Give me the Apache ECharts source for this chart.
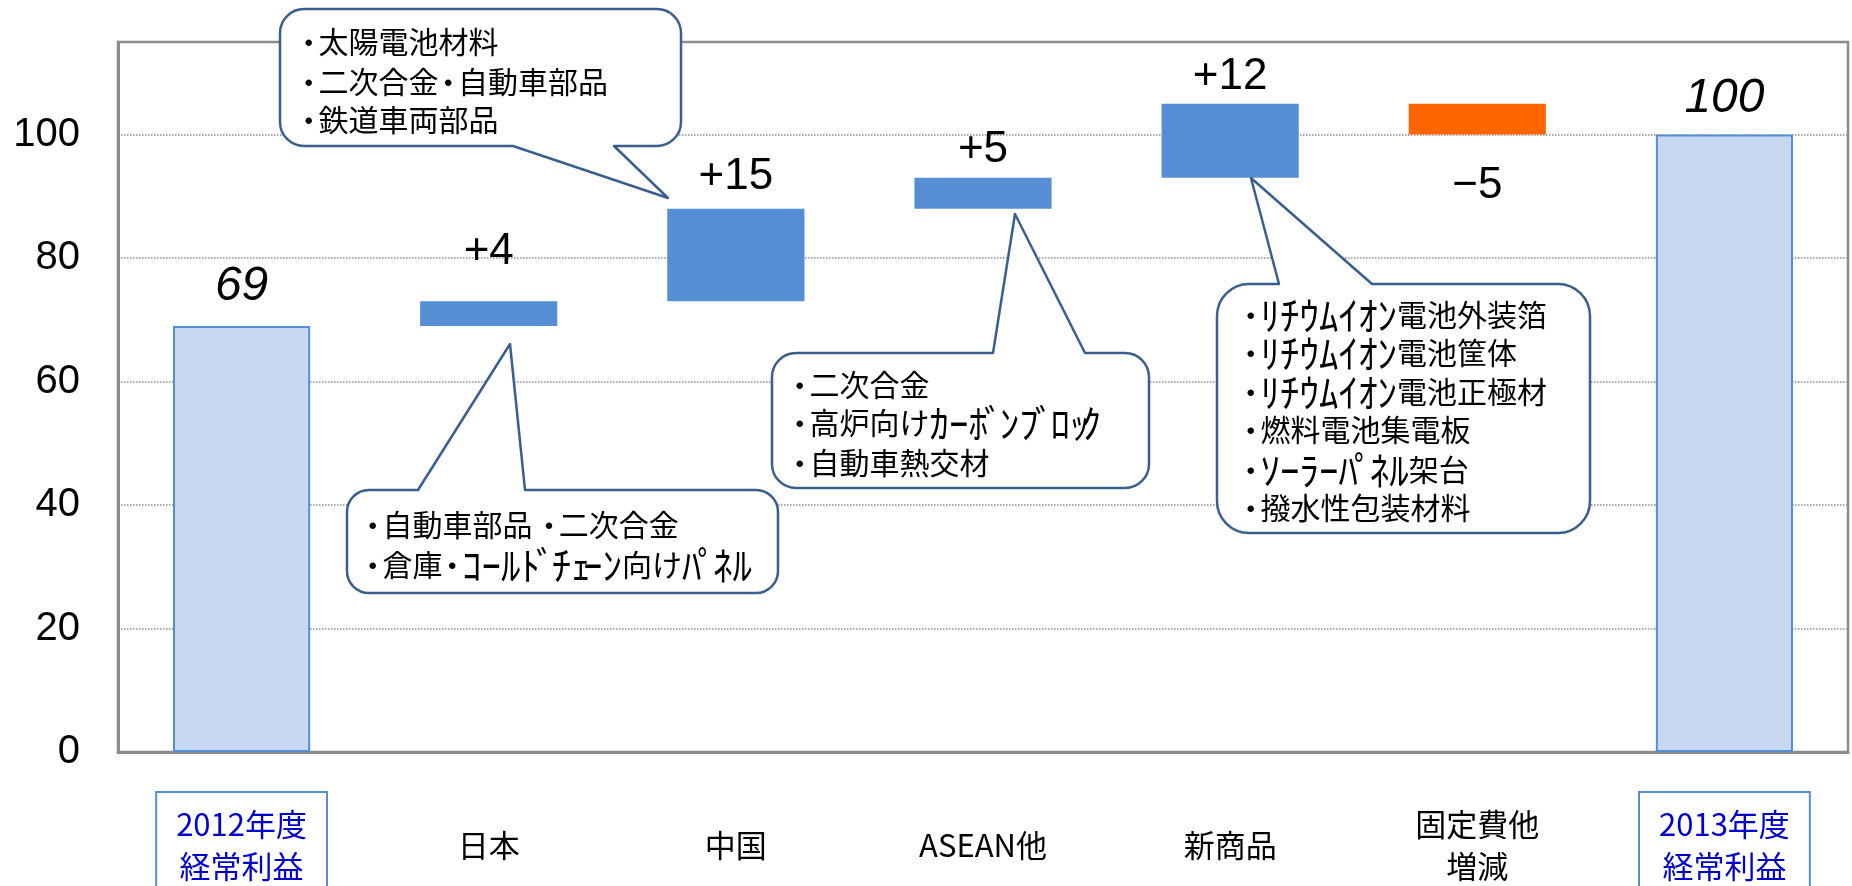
<!DOCTYPE html>
<html>
<head>
<meta charset="utf-8">
<script src="https://cdn.jsdelivr.net/npm/echarts@6/dist/echarts.min.js"></script>
<style>
html,body{margin:0;padding:0;background:#fff;}
#chart{width:1852px;height:886px;}
</style>
</head>
<body>
<div id="chart"></div>
<script>
// ---- data ----
const categories = ['2012年度\n経常利益', '日本', '中国', 'ASEAN他', '新商品', '固定費他\n増減', '2013年度\n経常利益'];
const totals  = [69, null, null, null, null, null, 100];
const changes = [null, 4, 15, 5, 12, -5, null];
const yMin = 0, yMax = 115, yInterval = 20;

const calloutA = ['･太陽電池材料', '･二次合金･自動車部品', '･鉄道車両部品'];
const calloutB = ['･自動車部品 ･二次合金', '･倉庫･ｺｰﾙﾄﾞﾁｪｰﾝ向けﾊﾟﾈﾙ'];
const calloutC = ['･二次合金', '･高炉向けｶｰﾎﾞﾝﾌﾞﾛｯｸ', '･自動車熱交材'];
const calloutD = ['･ﾘﾁｳﾑｲｵﾝ電池外装箔', '･ﾘﾁｳﾑｲｵﾝ電池筐体', '･ﾘﾁｳﾑｲｵﾝ電池正極材', '･燃料電池集電板', '･ｿｰﾗｰﾊﾟﾈﾙ架台', '･撥水性包装材料'];

// ---- layout / style config ----
const labelGap = [15, 27, 10, 6, 5, 29, 12];
const NUM_FONT = "'Liberation Sans', Arial, 'Noto Sans CJK JP', sans-serif";
const JP_FONT = "'Noto Sans CJK JP', 'Liberation Sans', sans-serif";
const CALLOUT_FONT_SIZE = 30;
const HALFWIDTH_FONT_SIZE = 39;

const callouts = [
  {lines: calloutA, box: [280, 9, 681, 146], r: 24, tail: {side: 'bottom', a: 513, b: 614, tip: [668, 198]}, tx: 299, ty: [42, 82, 120]},
  {lines: calloutB, box: [347, 490, 778, 593], r: 22, tail: {side: 'top', a: 418, b: 525, tip: [510, 344]}, tx: 363, ty: [525, 565]},
  {lines: calloutC, box: [772, 353, 1149, 488], r: 24, tail: {side: 'top', a: 993, b: 1085, tip: [1015, 214]}, tx: 790, ty: [385, 423, 463]},
  {lines: calloutD, box: [1217, 284, 1590, 533], r: 32, tail: {side: 'top', a: 1279, b: 1372, tip: [1251, 178]}, tx: 1241, ty: [315, 353, 392, 430, 470, 508]}
];

// ---- waterfall decomposition ----
const base = [], totalSeries = [], incSeries = [], decSeries = [];
let running = 0;
categories.forEach((c, i) => {
  if (totals[i] != null) {
    running = totals[i];
    base.push(0);
    totalSeries.push({value: totals[i], label: {distance: labelGap[i]}});
    incSeries.push('-'); decSeries.push('-');
  } else {
    const ch = changes[i];
    totalSeries.push('-');
    if (ch >= 0) {
      base.push(running);
      incSeries.push({value: ch, label: {distance: labelGap[i]}});
      decSeries.push('-');
      running += ch;
    } else {
      running += ch;
      base.push(running);
      decSeries.push({value: -ch, label: {distance: labelGap[i]}});
      incSeries.push('-');
    }
  }
});

function bubblePath(c) {
  const [L, T, R, B] = c.box, r = c.r, t = c.tail;
  let d = `M${L + r},${T}`;
  if (t.side === 'top') d += ` L${t.a},${T} L${t.tip[0]},${t.tip[1]} L${t.b},${T}`;
  d += ` L${R - r},${T} A${r},${r} 0 0 1 ${R},${T + r} L${R},${B - r} A${r},${r} 0 0 1 ${R - r},${B}`;
  if (t.side === 'bottom') d += ` L${t.b},${B} L${t.tip[0]},${t.tip[1]} L${t.a},${B}`;
  d += ` L${L + r},${B} A${r},${r} 0 0 1 ${L},${B - r} L${L},${T + r} A${r},${r} 0 0 1 ${L + r},${T} Z`;
  return d;
}

// measure text for mixed-width line layout
const measureCtx = document.createElement('canvas').getContext('2d');
function measure(text, size) {
  measureCtx.font = size + "px 'Noto Sans CJK JP', 'Liberation Sans', sans-serif";
  return measureCtx.measureText(text).width;
}
const NARROW_HALF = /[\uFF67-\uFF6F\uFF9E\uFF9F]/;
function lineElements(line, x0, y) {
  const parts = line.match(/[\uFF61-\uFF9F]+|[^\uFF61-\uFF9F]+/g) || [];
  const els = [];
  let x = x0;
  parts.forEach(p => {
    const half = /^[\uFF61-\uFF9F]/.test(p);
    if (!half) {
      els.push({type: 'text', style: {text: p, x: x, y: y, fill: '#000', fontSize: CALLOUT_FONT_SIZE, fontFamily: JP_FONT, align: 'left', verticalAlign: 'middle'}});
      x += measure(p, CALLOUT_FONT_SIZE);
    } else {
      for (const ch of p) {
        const w = measure(ch, HALFWIDTH_FONT_SIZE);
        const narrow = NARROW_HALF.test(ch);
        const shift = narrow && /[\uFF9E\uFF9F]/.test(ch) ? -w * 0.2 : 0;
        els.push({type: 'text', style: {text: ch, x: x + shift, y: y, fill: '#000', fontSize: HALFWIDTH_FONT_SIZE, fontFamily: JP_FONT, align: 'left', verticalAlign: 'middle'}});
        x += narrow ? w * 0.6 : w;
      }
    }
  });
  return els;
}

const boxedLabel = {
  color: '#0000cc',
  borderColor: '#558ed5',
  borderWidth: 2,
  padding: [11, 20, 11, 20],
  verticalAlign: 'middle',
  fontSize: 31,
  lineHeight: 42,
  fontFamily: JP_FONT
};

const xData = categories.map((c, i) => (totals[i] != null) ? {value: c, textStyle: boxedLabel} : c);

const chart = echarts.init(document.getElementById('chart'), null, {renderer: 'canvas'});
chart.setOption({
  animation: false,
  backgroundColor: '#ffffff',
  grid: {left: 118, right: 4, top: 42, bottom: 134, show: true, containLabel: false, outerBoundsMode: 'none',
    borderColor: '#8c8c8c', borderWidth: 2.5, backgroundColor: 'transparent'},
  xAxis: {
    type: 'category',
    data: xData,
    axisTick: {show: false},
    axisLine: {show: true, lineStyle: {color: '#8c8c8c', width: 3}},
    axisLabel: {
      interval: 0,
      margin: 93,
      verticalAlign: 'middle',
      fontSize: 31,
      lineHeight: 42,
      color: '#000',
      fontFamily: JP_FONT
    },
    splitLine: {show: false}
  },
  yAxis: {
    type: 'value',
    min: yMin, max: yMax, interval: yInterval,
    axisLine: {show: true, lineStyle: {color: '#8c8c8c', width: 3}},
    axisTick: {show: false},
    axisLabel: {fontSize: 40, color: '#000', margin: 38, fontFamily: NUM_FONT, showMaxLabel: false},
    splitLine: {show: true, lineStyle: {type: 'dotted', color: '#8c8c8c', width: 1.5}}
  },
  series: [
    {
      name: 'base', type: 'bar', stack: 'wf', barWidth: '55.5%', silent: true,
      data: base, itemStyle: {color: 'transparent'}
    },
    {
      name: 'total', type: 'bar', stack: 'wf', barWidth: '55.5%',
      data: totalSeries,
      itemStyle: {color: '#c6d9f1', borderColor: '#558ed5', borderWidth: 2},
      label: {show: true, position: 'top', fontSize: 48, lineHeight: 48, fontStyle: 'italic', color: '#000', fontFamily: NUM_FONT}
    },
    {
      name: 'increase', type: 'bar', stack: 'wf', barWidth: '55.5%',
      data: incSeries,
      itemStyle: {color: '#558ed5'},
      label: {show: true, position: 'top', fontSize: 44, lineHeight: 44, color: '#000', fontFamily: NUM_FONT,
        formatter: p => '+' + p.value}
    },
    {
      name: 'decrease', type: 'bar', stack: 'wf', barWidth: '55.5%',
      data: decSeries,
      itemStyle: {color: '#ff6600'},
      label: {show: true, position: 'bottom', fontSize: 44, lineHeight: 44, color: '#000', fontFamily: NUM_FONT,
        formatter: p => '\u2212' + p.value}
    },
    {
      name: 'callouts', type: 'custom', coordinateSystem: 'none', silent: true, clip: false, z: 10,
      data: callouts.map((c, i) => [i]),
      renderItem: function (params) {
        const c = callouts[params.dataIndex];
        let children = [{
          type: 'path',
          shape: {pathData: bubblePath(c)},
          style: {fill: '#ffffff', stroke: '#3a5f8e', lineWidth: 2.5, lineJoin: 'round'}
        }];
        c.lines.forEach((line, k) => {
          children = children.concat(lineElements(line, c.tx, c.ty[k]));
        });
        return {type: 'group', children: children};
      }
    }
  ]
});
</script>
</body>
</html>
